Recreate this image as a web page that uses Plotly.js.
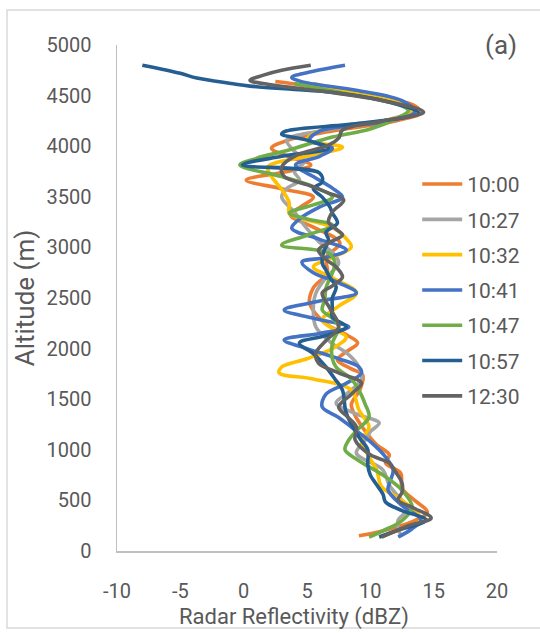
<!DOCTYPE html>
<html>
<head>
<meta charset="utf-8">
<script src="https://cdn.plot.ly/plotly-3.0.1.min.js"></script>
<style>html,body{margin:0;padding:0;background:#fff;}#chart{width:540px;height:633px;}</style>
</head>
<body>
<div id="chart"></div>
<script>
// Series names
const seriesNames = ["10:00", "10:27", "10:32", "10:41", "10:47", "10:57", "12:30"];
const seriesColors = ["#ed7d31", "#a5a5a5", "#ffc000", "#4472c4", "#70ad47", "#255e91", "#636363"];

// Radar reflectivity (dBZ) and altitude (m) for each time
const alt_1000 = [4640,4600,4500,4400,4330,4250,4150,4060,3980,3900,3814,3740,3665,3580,3497,3400,3320,3200,3043,2900,2747,2600,2450,2300,2213,2130,2055,1960,1887,1800,1739,1600,1450,1363,1200,1050,950,870,770,620,500,385,300,200,150];
const dbz_1000 = [2.5,5,10,13.5,14.0,12,7,3.5,2.2,3.5,5.3,3,0.2,3,5.5,4.5,3.7,5.5,7.6,6.5,6.6,5.5,5.2,6,6.9,8.2,9.0,8,7.4,8.5,9.4,9.2,8.5,8.7,9.5,10.5,11.5,11.2,12.4,12.5,13.5,14.5,13.5,11,9.1];

const alt_1027 = [4620,4550,4450,4350,4250,4150,4060,3950,3850,3750,3665,3580,3497,3350,3201,3050,2950,2845,2700,2549,2400,2213,2050,1950,1818,1700,1560,1462,1350,1265,1180,1097,968,800,650,500,435,360,306,220,138];
const dbz_1027 = [5,8,12,13.3,11,6,3.4,4,4.8,4,4.4,3.4,3.0,4,4.9,6,7,7.5,6.5,5.7,5.5,5.7,7,8.2,9.1,9.3,8.2,7.3,9,10.7,10,9.6,8.9,11,11.5,12.5,13.0,12.6,12.2,12.2,12.5];

const alt_1032 = [4620,4520,4420,4340,4250,4150,4060,3990,3900,3794,3700,3636,3538,3438,3339,3201,3100,3003,2900,2806,2700,2549,2420,2282,2200,2114,2000,1900,1818,1760,1700,1590,1393,1225,1097,950,800,633,500,306,220,138];
const dbz_1032 = [5.5,9,12.5,13.3,11,6,5,7.8,5,1.9,2.2,2.6,3.2,3.6,3.6,7.0,8,8.5,7,5.5,7,8.9,7.5,6.2,7,8.1,7,5,3.0,2.8,5.5,8.5,9.1,9.9,9.3,9.8,10.5,10.9,12.5,14.0,12.5,10.7];

const alt_1041 = [4800,4740,4680,4640,4550,4450,4340,4250,4150,4060,3980,3900,3814,3700,3586,3497,3400,3290,3190,3080,2974,2900,2855,2750,2650,2549,2470,2381,2300,2213,2150,2085,2000,1900,1818,1759,1650,1550,1423,1320,1225,1080,929,800,700,603,450,306,220,138];
const dbz_1041 = [8,5.5,3.8,4.5,9,12.5,13.5,11.5,6,5.2,7.0,6,4.1,5.5,7.0,7.8,6,4.5,3.8,6,8.1,6.5,4.6,5.5,7.5,8.9,6,3.2,5.5,8.3,6,3.2,5,7.5,9.1,9.3,8,6.5,6.2,7.5,8.5,10,11.2,11.8,11.6,11.4,12.5,14.0,13.3,12.2];

const alt_1047 = [4620,4520,4420,4350,4270,4170,4090,3960,3880,3814,3700,3600,3497,3420,3339,3280,3221,3120,3023,2944,2850,2747,2600,2480,2381,2300,2213,2050,1900,1818,1700,1590,1450,1324,1200,1097,1000,900,750,600,435,300,200,138];
const dbz_1047 = [4,8,12,13,12,10,7.0,3.5,1,-0.3,3,5.5,7.0,5.5,3.6,5,7.0,5,3.0,6.7,7.2,7.0,6.5,6.4,6.2,7,7.5,7,7,7.3,8.5,9.1,9.6,9.9,9,8.3,8,9,11,12.5,13.3,12.5,11,9.9];

const alt_1057 = [4800,4720,4673,4620,4594,4560,4535,4450,4327,4228,4150,4120,4060,3980,3900,3814,3735,3646,3580,3497,3400,3340,3240,3150,3073,2950,2845,2776,2700,2608,2500,2400,2312,2213,2130,2055,1950,1818,1700,1590,1363,1126,1000,850,750,672,560,484,400,306,207,138];
const dbz_1057 = [-8,-5,-3.7,-1,0.5,4,6.7,11,13.8,9.3,3.35,3.0,5,6.7,3,-0.1,6.0,6.2,5.5,6.2,6.8,7.0,7.4,6.5,6.7,6.3,6.2,6.5,6.8,7.3,7,7,7.0,8.1,6.5,4.4,5.5,6.5,7.2,7.8,8.1,9.1,9.8,9.8,10,10.4,11,11.2,12.5,14.4,12.2,10.7];

const alt_1230 = [4800,4750,4700,4650,4610,4570,4535,4450,4337,4250,4160,4080,4011,3900,3794,3700,3620,3537,3468,3350,3250,3180,3122,3050,2974,2880,2806,2707,2620,2549,2400,2213,2080,1956,1857,1760,1660,1550,1423,1325,1225,1097,950,870,780,672,580,504,420,326,250,138];
const dbz_1230 = [5.3,3,1.5,0.5,2,4.5,6.7,11,14.2,11,7.8,7.5,6.7,4,3.0,3.2,5,6.7,7.9,7,6.7,7.3,7.8,6.8,5.9,6.5,7.3,7.8,7,6.2,6.8,7.5,6.5,5.7,5.9,7.5,9.3,8.5,7.5,8.2,8.9,8.8,10,11.5,12.0,12.5,12.5,12.2,13.5,14.8,13,10.9];

const xTickVals = [-10,-5,0,5,10,15,20];
const yTickVals = [0,500,1000,1500,2000,2500,3000,3500,4000,4500,5000];

const xs = [dbz_1000, dbz_1027, dbz_1032, dbz_1041, dbz_1047, dbz_1057, dbz_1230];
const ys = [alt_1000, alt_1027, alt_1032, alt_1041, alt_1047, alt_1057, alt_1230];

const FONT = "Roboto, 'Open Sans', sans-serif";

const traces = seriesNames.map((n, i) => ({
  type: "scatter", mode: "lines", name: n,
  x: xs[i], y: ys[i],
  line: {color: seriesColors[i], width: 3.6, shape: "spline", smoothing: 1.0},
  legendgroup: "g" + i
}));

const layout = {
  width: 540, height: 633,
  margin: {l: 117, r: 43, t: 45, b: 82},
  paper_bgcolor: "#fff", plot_bgcolor: "#fff",
  showlegend: true,
  legend: {
    x: 0.79, y: 0.765, xanchor: "left", yanchor: "top",
    font: {family: FONT, size: 21, color: "#595959"},
    bgcolor: "rgba(0,0,0,0)", tracegroupgap: 5, itemwidth: 40,
    traceorder: "grouped"
  },
  xaxis: {
    range: [-10, 20], tickvals: xTickVals, ticktext: xTickVals.map(String),
    showgrid: false, zeroline: false, showline: true, linecolor: "#bfbfbf", linewidth: 1.5,
    ticks: "", ticklabelstandoff: 21,
    tickfont: {family: FONT, size: 20, color: "#595959"}
  },
  yaxis: {
    range: [0, 5000], tickvals: yTickVals, ticktext: yTickVals.map(String),
    showgrid: false, zeroline: false, showline: true, linecolor: "#bfbfbf", linewidth: 1.5,
    ticks: "", ticklabelstandoff: 20,
    tickfont: {family: FONT, size: 20, color: "#595959"},
    title: {text: "Altitude (m)", font: {family: FONT, size: 26, color: "#595959"}, standoff: 4}
  },
  shapes: [{
    type: "rect", xref: "paper", yref: "paper",
    x0: -0.2895, x1: 1.13, y0: -0.152, y1: 1.069,
    line: {color: "#d9d9d9", width: 1.5}, fillcolor: "rgba(0,0,0,0)", layer: "below"
  }],
  annotations: [{
    xref: "paper", yref: "paper", x: 1.01, y: 1.0, xanchor: "center", yanchor: "middle",
    text: "(a)", showarrow: false, font: {family: FONT, size: 26, color: "#595959"}
  }, {
    xref: "paper", yref: "paper", x: 0.465, y: -0.131, xanchor: "center", yanchor: "middle",
    text: "Radar Reflectivity (dBZ)", showarrow: false, font: {family: FONT, size: 22, color: "#595959"}
  }]
};

Plotly.newPlot("chart", traces, layout, {staticPlot: true, displayModeBar: false});
</script>
</body>
</html>
